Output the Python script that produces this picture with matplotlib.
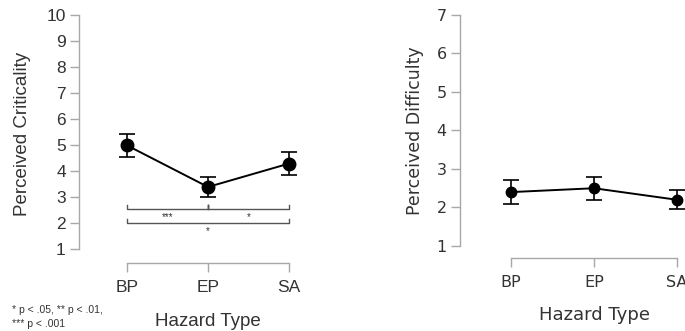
import matplotlib.pyplot as plt

categories = ['BP', 'EP', 'SA']

# perceived criticality (left panel)
crit_mean = [5.0, 3.4, 4.3]
crit_err = [0.45, 0.4, 0.43]

# perceived difficulty (right panel)
diff_mean = [2.4, 2.5, 2.2]
diff_err = [0.32, 0.3, 0.25]

# significance brackets: (start, end, level, label)
brackets = [(0, 1, 2.55, '***'), (1, 2, 2.55, '*'), (0, 2, 2.0, '*')]

AXIS_GRAY = '#a8a8a8'
TEXT = '#333333'

fig = plt.figure(figsize=(6.85, 3.31), dpi=100)


def style_axes(ax, ymin, ymax, font, ticksize):
    for side in ['top', 'right']:
        ax.spines[side].set_visible(False)
    ax.spines['left'].set_bounds(ymin, ymax)
    ax.spines['bottom'].set_bounds(0, 2)
    for side in ['left', 'bottom']:
        ax.spines[side].set_color(AXIS_GRAY)
        ax.spines[side].set_linewidth(1.0)
    ax.tick_params(colors=AXIS_GRAY, length=6.5, width=1.0, direction='out')
    ax.set_xticks(range(len(categories)))
    ax.set_xticklabels(categories)
    ax.set_yticks(range(ymin, ymax + 1))
    for lab in ax.get_xticklabels() + ax.get_yticklabels():
        lab.set_color(TEXT)
        lab.set_family(font)
        lab.set_fontsize(ticksize)
    ax.tick_params(axis='x', pad=6)
    ax.tick_params(axis='y', pad=3)


# ---- left panel ----
ax1 = fig.add_axes([79 / 685, 68 / 331, 221 / 685, 247.5 / 331])
ax1.errorbar(range(3), crit_mean, yerr=crit_err, fmt='o-', color='black',
             markersize=9, linewidth=1.4, capsize=6, elinewidth=1.2, capthick=1.2)
ax1.set_xlim(-0.593, 2.136)
ax1.set_ylim(0.473, 10.0)
style_axes(ax1, 1, 10, 'Liberation Sans', 12.5)
ax1.set_ylabel('Perceived Criticality', fontsize=13.5, color=TEXT,
               family='Liberation Sans', labelpad=11)
ax1.set_xlabel('Hazard Type', fontsize=13.5, color=TEXT,
               family='Liberation Sans', labelpad=13)
ax1.xaxis.label.set_x(0.584)
ax1.yaxis.label.set_y(0.521)

for x0, x1, lev, lab in brackets:
    ax1.plot([x0, x0, x1, x1], [lev + 0.15, lev, lev, lev + 0.15],
             color='#555555', linewidth=1.0, clip_on=False)
    ax1.text((x0 + x1) / 2, lev - 0.1, lab, ha='center', va='top',
             fontsize=7, color=TEXT, family='Liberation Sans')
ax1.plot([1, 1], [2.55, 2.7], color='#555555', linewidth=1.0)

fig.text(12 / 685, 1 - 310 / 331, '* p < .05, ** p < .01,', fontsize=7.5,
         color=TEXT, family='Liberation Sans', va='center')
fig.text(12 / 685, 1 - 324 / 331, '*** p < .001', fontsize=7.5,
         color=TEXT, family='Liberation Sans', va='center')

# ---- right panel ----
ax2 = fig.add_axes([460 / 685, 73 / 331, 225 / 685, 243 / 331])
ax2.errorbar(range(3), diff_mean, yerr=diff_err, fmt='o-', color='black',
             markersize=7.5, linewidth=1.4, capsize=6, elinewidth=1.2, capthick=1.2)
ax2.set_xlim(-0.614, 2.096)
ax2.set_ylim(0.688, 7.0)
style_axes(ax2, 1, 7, 'DejaVu Sans', 11.5)
ax2.set_ylabel('Perceived Difficulty', fontsize=12.5, color=TEXT,
               family='DejaVu Sans', labelpad=9)
ax2.set_xlabel('Hazard Type', fontsize=13, color=TEXT,
               family='DejaVu Sans', labelpad=11)
ax2.xaxis.label.set_x(0.596)
ax2.yaxis.label.set_y(0.523)

fig.savefig('out.png', dpi=100)
